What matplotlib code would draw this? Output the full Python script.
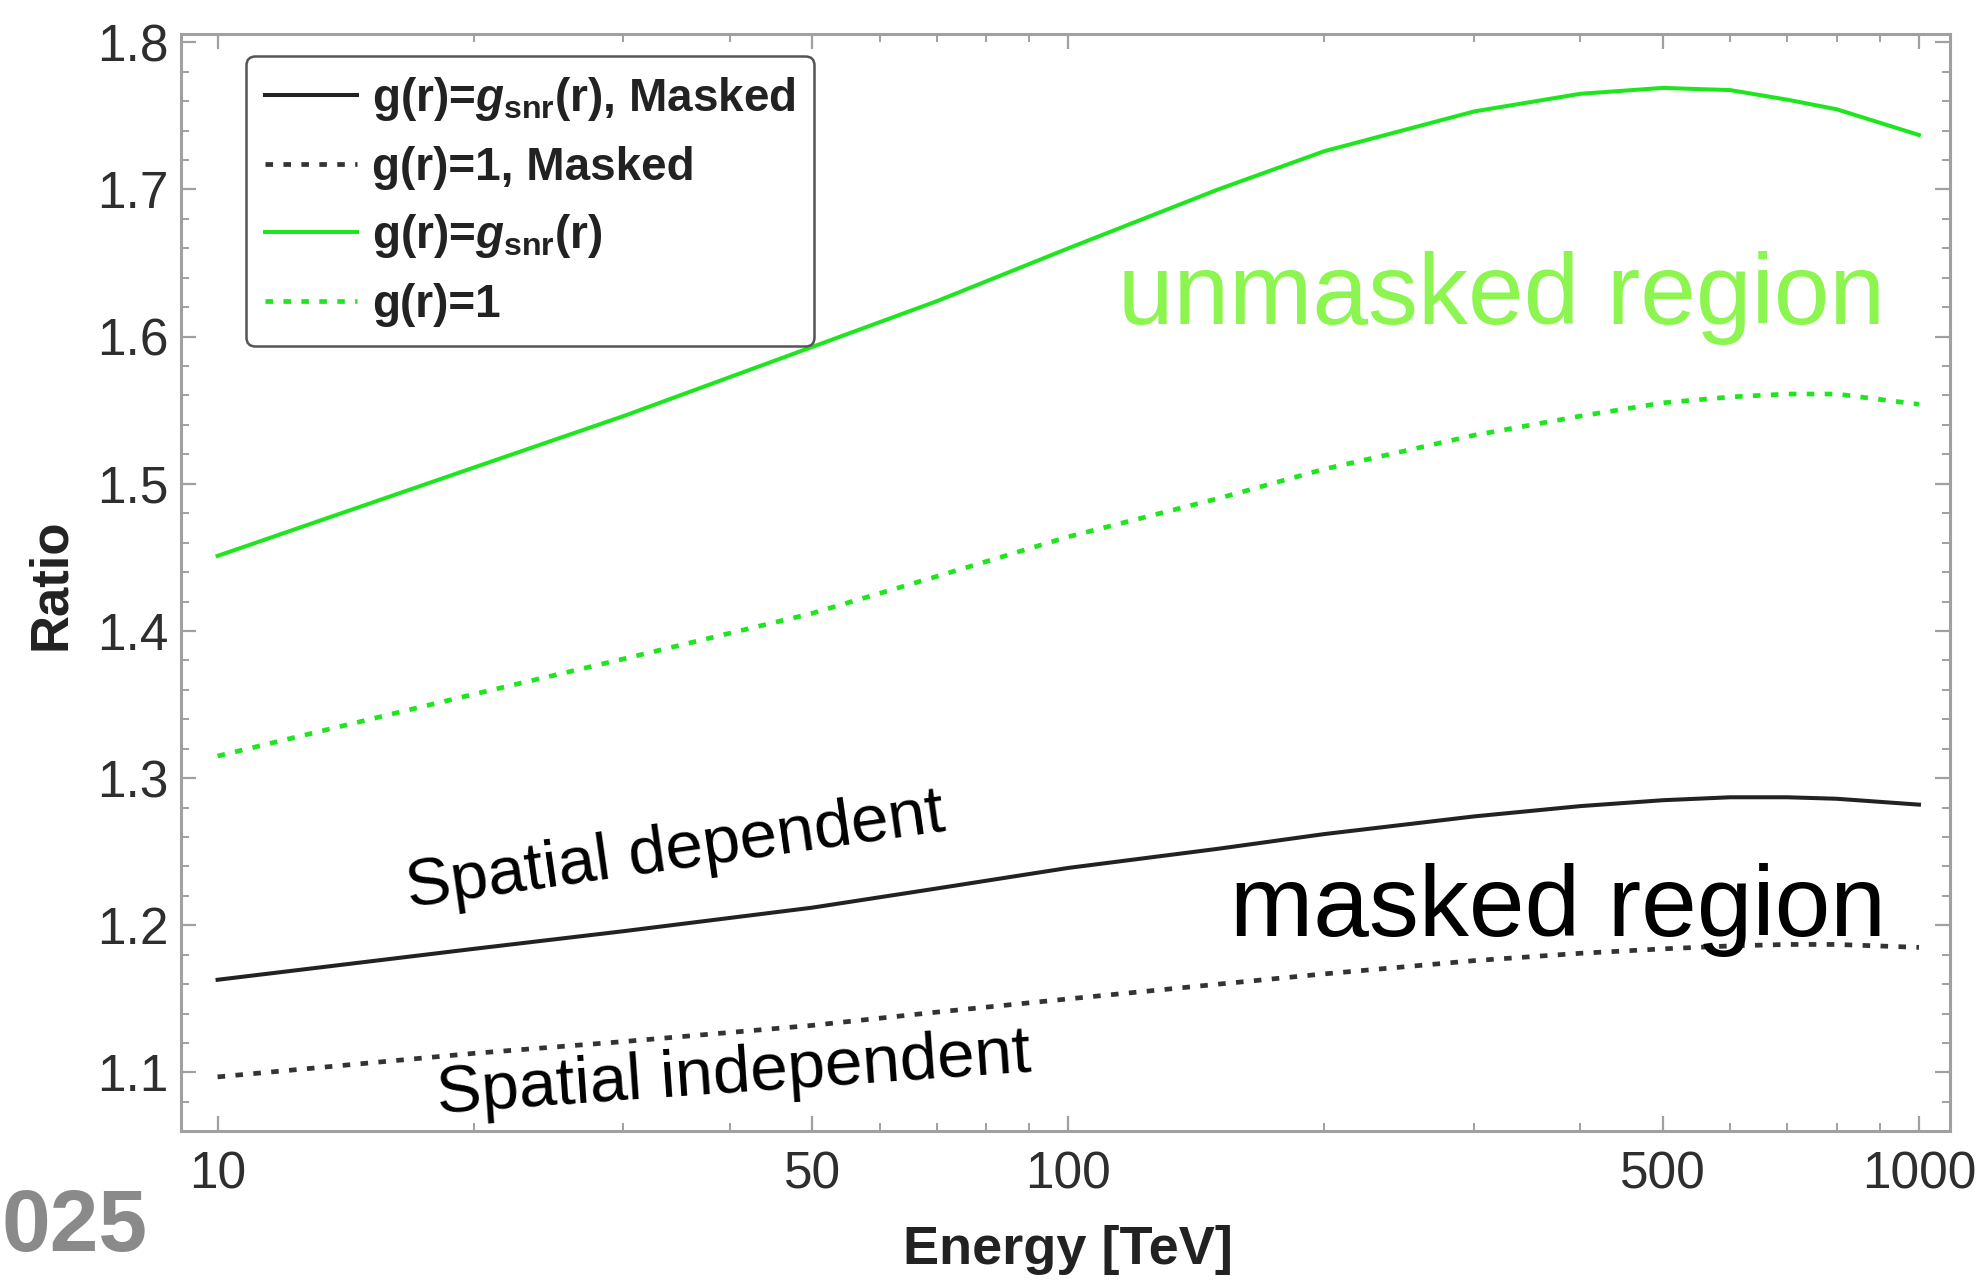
import numpy as np
import matplotlib
matplotlib.use("Agg")
import matplotlib.pyplot as plt
from matplotlib.ticker import FixedLocator, NullFormatter, FixedFormatter

# Energy grid [TeV] and ratio curves
energy = [10, 20, 30, 50, 70, 100, 150, 200, 300, 400, 500, 600, 700, 800, 1000]

ratio_snr_masked = [1.163, 1.184, 1.196, 1.212, 1.225, 1.239, 1.252, 1.262, 1.274,
                    1.281, 1.285, 1.287, 1.287, 1.286, 1.282]
ratio_one_masked = [1.097, 1.113, 1.121, 1.132, 1.141, 1.150, 1.160, 1.167, 1.176,
                    1.181, 1.184, 1.186, 1.187, 1.187, 1.185]
ratio_snr = [1.451, 1.511, 1.546, 1.593, 1.624, 1.660, 1.700, 1.726, 1.753,
             1.765, 1.769, 1.7675, 1.761, 1.7545, 1.737]
ratio_one = [1.315, 1.357, 1.381, 1.412, 1.437, 1.464, 1.490, 1.510, 1.533,
             1.546, 1.555, 1.559, 1.561, 1.561, 1.554]

labels = [r"g(r)=$g_{\mathrm{snr}}$(r), Masked", "g(r)=1, Masked",
          r"g(r)=$g_{\mathrm{snr}}$(r)", "g(r)=1"]

x_major = [10, 50, 100, 500, 1000]
x_minor = [20, 30, 40, 60, 70, 80, 90, 200, 300, 400, 600, 700, 800, 900]
y_major = [1.1, 1.2, 1.3, 1.4, 1.5, 1.6, 1.7, 1.8]

plt.rcParams["font.family"] = ["Liberation Sans", "DejaVu Sans"]
plt.rcParams["mathtext.fontset"] = "custom"
plt.rcParams["mathtext.rm"] = "Liberation Sans:bold"
plt.rcParams["mathtext.it"] = "Liberation Sans:italic:bold"
plt.rcParams["mathtext.bf"] = "Liberation Sans:bold"

fig = plt.figure(figsize=(19.86, 12.8), dpi=100)
ax = fig.add_axes([0.0912, 0.1167, 0.8909, 0.8566])

dotted = (0, (1.6, 2.2))
green = "#1ee61e"
dark = "#222222"

ax.plot(energy, ratio_snr_masked, color=dark, lw=2.9, label=labels[0])
ax.plot(energy, ratio_one_masked, color="#333333", lw=3.4, ls=dotted,
        dash_capstyle="butt", label=labels[1])
ax.plot(energy, ratio_snr, color=green, lw=2.9, label=labels[2])
ax.plot(energy, ratio_one, color=green, lw=3.4, ls=dotted,
        dash_capstyle="butt", label=labels[3])

ax.set_xscale("log")
ax.set_xlim(9.06, 1089)
ax.set_ylim(1.0605, 1.8055)

ax.xaxis.set_major_locator(FixedLocator(x_major))
ax.xaxis.set_major_formatter(FixedFormatter([str(v) for v in x_major]))
ax.xaxis.set_minor_locator(FixedLocator(x_minor))
ax.xaxis.set_minor_formatter(NullFormatter())
ax.yaxis.set_major_locator(FixedLocator(y_major))
ax.yaxis.set_major_formatter(FixedFormatter([f"{v:.1f}" for v in y_major]))
ax.yaxis.set_minor_locator(FixedLocator(np.arange(1.06, 1.81, 0.02)))

frame_grey = "#a0a0a0"
for sp in ax.spines.values():
    sp.set_color(frame_grey)
    sp.set_linewidth(2.2)
ax.tick_params(which="both", direction="in", top=True, right=True,
               color=frame_grey, labelcolor="#2e2e2e", labelsize=37)
ax.tick_params(which="major", length=11, width=1.6)
ax.tick_params(which="minor", length=6, width=1.4)
ax.tick_params(axis="y", which="major", pad=9)
ax.tick_params(axis="x", which="major", pad=14)

ax.set_xlabel("Energy [TeV]", fontsize=39, fontweight="bold", color="#222222", va="center")
ax.set_ylabel("Ratio", fontsize=38, fontweight="bold", color="#222222", va="center")
ax.xaxis.set_label_coords(0.501, -0.1085)
ax.yaxis.set_label_coords(-0.0734, 0.498)

leg = ax.legend(loc="upper left", bbox_to_anchor=(0.0367, 0.980), borderaxespad=0,
                prop={"weight": "bold", "size": 33}, handlelength=2.0,
                handletextpad=0.32, labelspacing=0.49, borderpad=0.42,
                fancybox=True, framealpha=1)
leg.get_frame().set_edgecolor("#555555")
leg.get_frame().set_linewidth(1.8)
for t in leg.get_texts():
    t.set_color("#222222")

# region annotations
ax.text(323, 1.6088, "unmasked region", color="#8cf54f", fontsize=72,
        ha="center", va="baseline")
ax.text(376, 1.1928, "masked region", color="black", fontsize=72,
        ha="center", va="baseline")
ax.text(34.8, 1.2385, "Spatial dependent", fontsize=48.5, rotation=8.1,
        rotation_mode="anchor", ha="center", va="baseline")
ax.text(40.55, 1.0868, "Spatial independent", fontsize=48.5, rotation=4.0,
        rotation_mode="anchor", ha="center", va="baseline")

fig.text(0.001, 0.0227, "025", fontsize=63, fontweight="bold", color="#8a8a8a",
         ha="left", va="baseline")

fig.savefig("out.png", dpi=100)
